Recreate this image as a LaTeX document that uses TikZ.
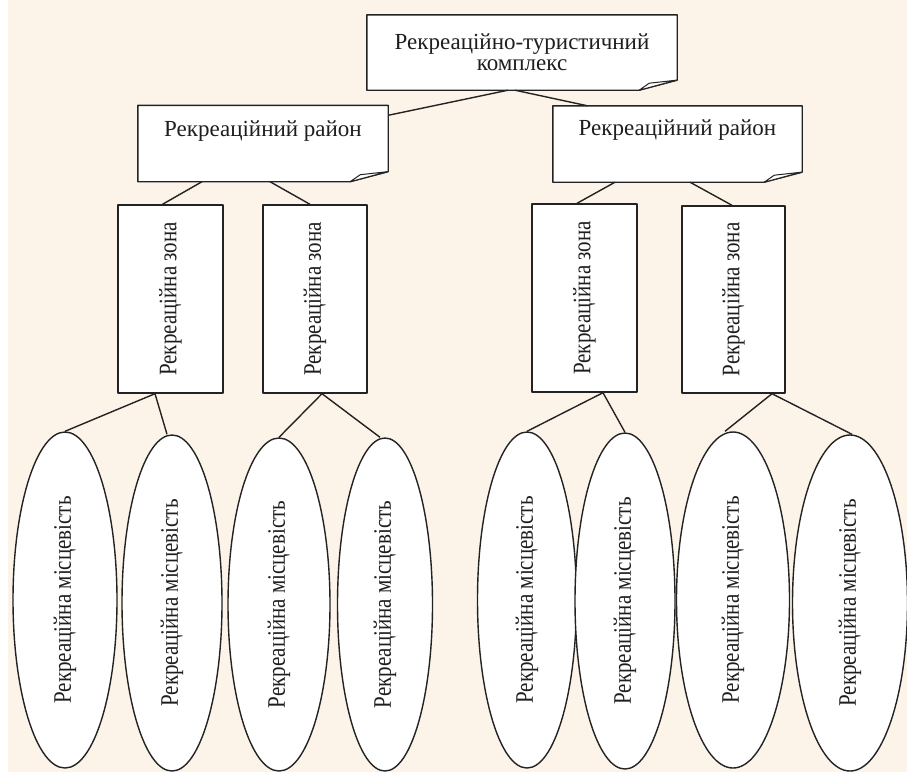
\documentclass[tikz,border=0pt]{standalone}
\usepackage{fontspec}
\setmainfont{Liberation Serif}
\usetikzlibrary{shapes.geometric,backgrounds}
\definecolor{bgcream}{RGB}{252,244,233}
\definecolor{inkline}{RGB}{35,35,35}
\definecolor{inktext}{RGB}{30,30,30}
\newcommand\foldshape[1]{%
  \draw[boxline,fill=white] (#1.north west) -- (#1.north east) -- ([yshift=10pt]#1.south east)
     -- ([xshift=-38pt]#1.south east) -- (#1.south west) -- cycle;
  \draw[boxline,fill=white,line width=1pt] ([xshift=-38pt]#1.south east) -- ([xshift=-28pt,yshift=7pt]#1.south east)
     -- ([xshift=-1pt,yshift=10pt]#1.south east) -- cycle;}
\newcommand\vtext[2]{\rotatebox{90}{\scalebox{1}[1.2]{#1}}\hspace{#2}}
\tikzset{
  boxline/.style={draw=inkline,line width=1.4pt,line join=round},
  conn/.style={draw=inkline,line width=1.4pt},
  foldnode/.style={draw=none,inner sep=0pt,text=inktext,font=\fontsize{23}{21}\selectfont},
  zonebox/.style={boxline,fill=white,text=inktext,inner sep=0pt,minimum width=105pt,minimum height=188pt,
    font=\fontsize{21}{24}\selectfont},
  placeell/.style={ellipse,boxline,fill=white,text=inktext,inner sep=0pt,minimum height=336pt,
    font=\fontsize{21}{24}\selectfont}
}
\begin{document}
\begin{tikzpicture}[x=1pt,y=-1pt]
\useasboundingbox (0,0) rectangle (907,772);
% nodes
\node[foldnode,minimum width=310pt,minimum height=75pt,align=center] (T) at (522,52.5)
  {Рекреаційно-туристичний\\комплекс};
\node[foldnode,minimum width=250pt,text height=30.5pt,text depth=45.5pt] (L) at (263,143.5)
  {Рекреаційний район};
\node[foldnode,minimum width=249pt,text height=29.5pt,text depth=46.5pt] (R) at (677.5,144)
  {Рекреаційний район};
\node[zonebox] (Z1) at (170.5,299) {\vtext{Рекреаційна зона}{36pt}};
\node[zonebox,minimum width=104pt] (Z2) at (315,299) {\vtext{Рекреаційна зона}{36pt}};
\node[zonebox] (Z3) at (584.5,298) {\vtext{Рекреаційна зона}{40pt}};
\node[zonebox,minimum width=103pt,minimum height=187pt] (Z4) at (733.5,299.5) {\vtext{Рекреаційна зона}{40pt}};
\node[placeell,minimum width=104pt] (E1) at (65,600) {\vtext{Рекреаційна місцевість}{20pt}};
\node[placeell,minimum width=100pt] (E2) at (172,603) {\vtext{Рекреаційна місцевість}{18pt}};
\node[placeell,minimum width=102pt,minimum height=333pt] (E3) at (279,604.5) {\vtext{Рекреаційна місцевість}{18pt}};
\node[placeell,minimum width=95pt,minimum height=333pt] (E4) at (385,604.5) {\vtext{Рекреаційна місцевість}{18pt}};
\node[placeell,minimum width=99pt] (E5) at (527,600) {\vtext{Рекреаційна місцевість}{14pt}};
\node[placeell,minimum width=100pt] (E6) at (625,601) {\vtext{Рекреаційна місцевість}{18pt}};
\node[placeell,minimum width=113pt] (E7) at (733,600) {\vtext{Рекреаційна місцевість}{18pt}};
\node[placeell,minimum width=115pt] (E8) at (850,603) {\vtext{Рекреаційна місцевість}{18pt}};
% background and folded boxes
\begin{scope}[on background layer]
  \fill[bgcream] (0,0) rectangle (907,772);
  \fill[white] (0,0) rectangle (8,772);
  \foldshape{T}
  \foldshape{L}
  \foldshape{R}
\end{scope}
% connectors
\draw[conn] ([xshift=-14pt]T.south) -- ([yshift=-10pt]L.north east);
\draw[conn] ([xshift=-7pt]T.south) -- ([xshift=-90pt]R.north);
\draw[conn] ([xshift=-61pt]L.south) -- ([xshift=-8pt]Z1.north);
\draw[conn] ([xshift=7pt]L.south) -- ([xshift=-5pt]Z2.north);
\draw[conn] ([xshift=-62.5pt]R.south) -- ([xshift=-7.5pt]Z3.north);
\draw[conn] ([xshift=12.5pt]R.south) -- ([xshift=-1.5pt]Z4.north);
\draw[conn] ([xshift=-15.5pt]Z1.south) -- (E1.north);
\draw[conn] ([xshift=-15.5pt]Z1.south) -- ([xshift=-5pt]E2.north);
\draw[conn] ([xshift=7pt]Z2.south) -- (E3.north);
\draw[conn] ([xshift=7pt]Z2.south) -- ([xshift=-5pt]E4.north);
\draw[conn] ([xshift=18.5pt]Z3.south) -- (E5.north);
\draw[conn] ([xshift=18.5pt]Z3.south) -- (E6.north);
\draw[conn] ([xshift=38.5pt]Z4.south) -- ([xshift=-8pt]E7.north);
\draw[conn] ([xshift=38.5pt]Z4.south) -- ([xshift=2pt]E8.north);
\end{tikzpicture}
\end{document}
